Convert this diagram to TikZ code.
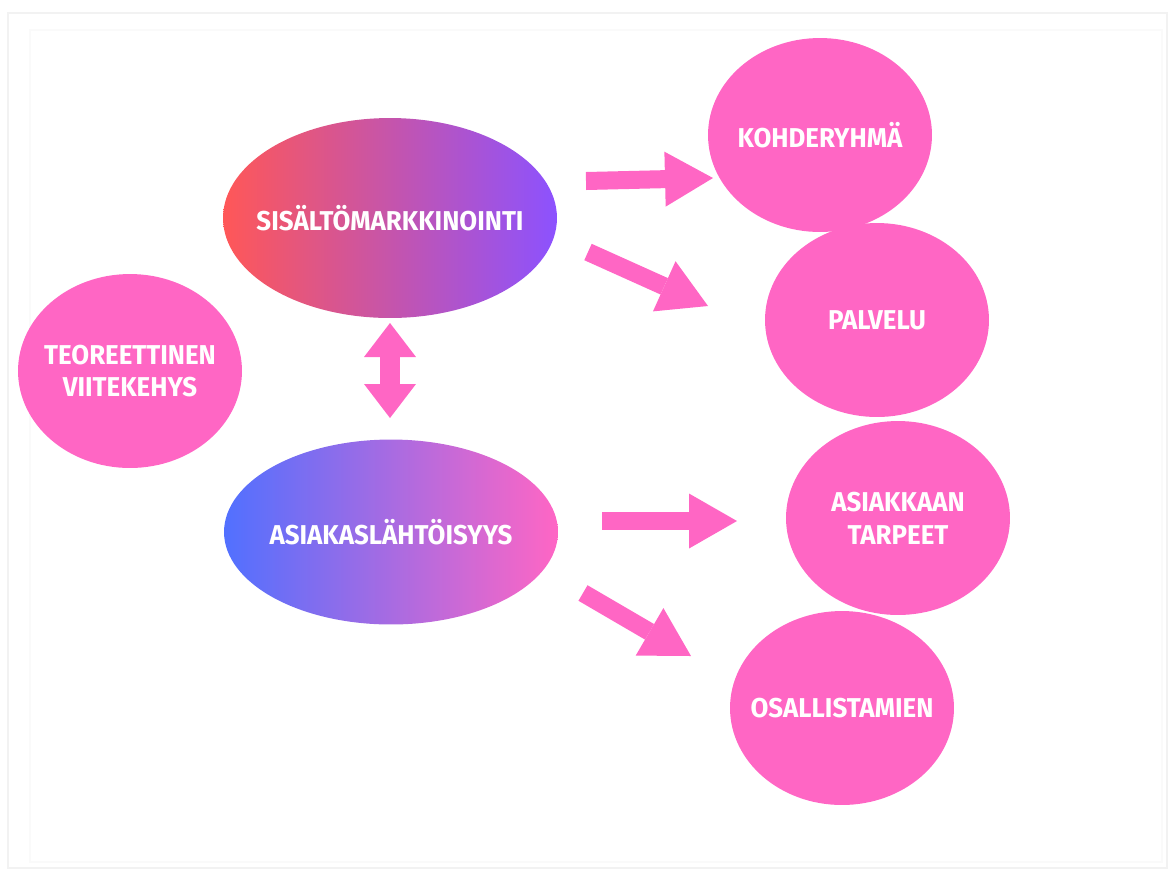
\documentclass[tikz,border=0pt]{standalone}
\usepackage{fontspec}
\newfontfamily\diagfont[FakeStretch=0.95]{Fira Sans}
\usetikzlibrary{shapes.geometric}
\usetikzlibrary{arrows.meta}
\definecolor{bubblepink}{HTML}{FF66C4}
\definecolor{sisred}{HTML}{FF5757}
\definecolor{sisviolet}{HTML}{8C52FF}
\definecolor{asiblue}{HTML}{5170FF}
\definecolor{asipink}{HTML}{FF66C4}

\begin{document}
\begin{tikzpicture}[x=0.02cm, y=-0.02cm, text=white, font=\diagfont\bfseries\fontsize{15.5}{18.6}\selectfont]
	\tikzstyle{bubble}=[ellipse, fill=bubblepink, minimum width=4.48cm, minimum height=3.88cm, inner xsep=-1cm, inner ysep=0pt, align=center]
	\tikzstyle{bigoval}=[ellipse, minimum width=6.68cm, minimum height=4cm, inner xsep=-1cm, inner ysep=0pt, align=center]
	\tikzstyle{blockarrow}=[draw=bubblepink, line width=0.36cm, -{Triangle[line width=0pt, length=0.96cm, width=1.1cm]}]
	\tikzstyle{twoway}=[draw=bubblepink, line width=0.4cm, {Triangle[line width=0pt, length=0.68cm, width=1.04cm]}-{Triangle[line width=0pt, length=0.68cm, width=1.04cm]}]

	\useasboundingbox (0,0) rectangle (1173,877);
	\draw[black!5, line width=1pt] (8,13) rectangle (1167,868);
	\draw[black!2, line width=1pt] (30,30) rectangle (1162,862);

	\node[bubble] (teo) at (130,371) {TEOREETTINEN\\VIITEKEHYS};
	\node[bigoval, left color=sisred, right color=sisviolet] (sis) at (390,218) {SISÄLTÖMARKKINOINTI};
	\node[bigoval, minimum height=3.7cm, left color=asiblue, right color=asipink] (asi) at (391,532) {ASIAKASLÄHTÖISYYS};
	\node[bubble] (koh) at (820,135) {KOHDERYHMÄ};
	\node[bubble] (pal) at (877,320) {PALVELU};
	\node[bubble] (tar) at (898,518) {ASIAKKAAN\\TARPEET};
	\node[bubble] (osa) at (842,708) {OSALLISTAMIEN};

	\coordinate (kohstart) at (586,181);
	\coordinate (kohend) at (713,178);
	\coordinate (palstart) at (588,252);
	\coordinate (palend) at (708,306);
	\coordinate (tarstart) at (602,521);
	\coordinate (tarend) at (737,521);
	\coordinate (osastart) at (583,593);
	\coordinate (osaend) at (691,656);
	\coordinate (sisend) at (390,323);
	\coordinate (asiend) at (390,418);

	\path[blockarrow] (kohstart) -- (kohend);
	\path[blockarrow] (palstart) -- (palend);
	\path[blockarrow] (tarstart) -- (tarend);
	\path[blockarrow] (osastart) -- (osaend);
	\path[twoway] (sisend) -- (asiend);
\end{tikzpicture}
\end{document}
